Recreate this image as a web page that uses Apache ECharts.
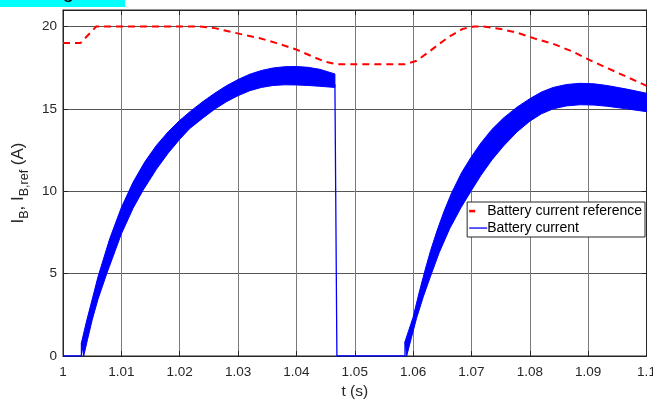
<!DOCTYPE html>
<html>
<head>
<meta charset="utf-8">
<script src="https://cdn.jsdelivr.net/npm/echarts@6/dist/echarts.min.js"></script>
<style>
html,body{margin:0;padding:0;background:#fff;}
#chart{width:653px;height:401px;}
</style>
</head>
<body>
<div id="chart"></div>
<script>
// ---- data ----
const xTicks = [1, 1.01, 1.02, 1.03, 1.04, 1.05, 1.06, 1.07, 1.08, 1.09, 1.1];
const yTicks = [0, 5, 10, 15, 20];

// reference current (red dashed)
const refT = [1.000, 1.003, 1.0057, 1.0234, 1.026, 1.0303, 1.0336, 1.0366, 1.040, 1.0428, 1.045, 1.0469,
              1.0586, 1.0605, 1.0625, 1.0645, 1.0665, 1.0685, 1.0705, 1.072, 1.075, 1.078, 1.081, 1.084,
              1.0875, 1.0902, 1.095, 1.1];
const refI = [19.0, 19.0, 20.0, 20.0, 19.9, 19.55, 19.3, 18.99, 18.6, 18.17, 17.85, 17.71,
              17.71, 17.9, 18.4, 18.95, 19.45, 19.85, 20.0, 20.0, 19.85, 19.6, 19.25, 18.95,
              18.45, 17.97, 17.2, 16.4];

// battery current ripple band, first pulse: upper and lower envelopes
const band1UpperT = [1.00316, 1.004, 1.006, 1.008, 1.010, 1.012, 1.014, 1.016, 1.018, 1.020,
                     1.022, 1.024, 1.026, 1.028, 1.030, 1.032, 1.034, 1.036, 1.038, 1.040,
                     1.042, 1.044, 1.0466];
const band1UpperI = [0.8, 2.06, 4.81, 7.11, 9.01, 10.54, 11.77, 12.78, 13.6, 14.3,
                     14.9, 15.45, 15.95, 16.4, 16.78, 17.1, 17.33, 17.48, 17.56, 17.57,
                     17.52, 17.4, 17.12];
const band1LowerT = [1.00355, 1.0042, 1.005, 1.006, 1.0075, 1.010, 1.012, 1.0137, 1.016, 1.018,
                     1.020, 1.0217, 1.024, 1.026, 1.028, 1.030, 1.032, 1.034, 1.036, 1.038,
                     1.040, 1.042, 1.044, 1.0466];
const band1LowerI = [0.0, 1.0, 2.19, 3.45, 5.0, 7.41, 8.96, 10.05, 11.33, 12.3,
                     13.15, 13.8, 14.45, 14.98, 15.43, 15.8, 16.1, 16.3, 16.42, 16.46,
                     16.45, 16.42, 16.37, 16.3];

// second pulse
const band2UpperT = [1.05861, 1.0600, 1.0610, 1.0620, 1.0630, 1.0641, 1.0653, 1.0666, 1.0683, 1.0700,
                     1.0716, 1.0735, 1.0755, 1.0778, 1.0800, 1.0820, 1.0840, 1.0863, 1.0886, 1.0910,
                     1.0932, 1.0966, 1.1000];
const band2UpperI = [0.87, 2.35, 3.8, 5.15, 6.4, 7.6, 8.78, 9.9, 11.12, 12.1,
                     12.92, 13.75, 14.45, 15.1, 15.62, 16.02, 16.3, 16.48, 16.55, 16.52,
                     16.42, 16.2, 15.95];
const band2LowerT = [1.0589, 1.0597, 1.0606, 1.06175, 1.0630, 1.0645, 1.0663, 1.0682, 1.0700, 1.0716,
                     1.0735, 1.0755, 1.0778, 1.0800, 1.0820, 1.0840, 1.0863, 1.0886, 1.0910, 1.0932,
                     1.0966, 1.1000];
const band2LowerI = [0.0, 1.1, 2.3, 3.6, 4.85, 6.3, 7.75, 9.0, 10.05, 10.95,
                     11.9, 12.75, 13.6, 14.25, 14.7, 15.0, 15.18, 15.25, 15.23, 15.16,
                     15.0, 14.83];

// thin parts of the battery current trace (zero stretches, steps)
const thin1T = [1.0, 1.00316, 1.00316];
const thin1I = [0, 0, 0.8];
const thin2T = [1.0466, 1.04694, 1.05861, 1.05861];
const thin2I = [16.5, 0, 0, 0.87];

const zip = (a, b) => a.map((v, i) => [v, b[i]]);

const FONT = '"Liberation Sans", Arial, Helvetica, sans-serif';
const AX = '#262626';

function band(uT, uI, lT, lI) {
  const upper = zip(uT, uI);
  const lower = zip(lT, lI).reverse();
  const all = upper.concat(lower);
  return {
    type: 'custom',
    coordinateSystem: 'cartesian2d',
    silent: true,
    z: 3,
    data: [all[0]],
    renderItem: function (params, api) {
      const pts = all.map(p => api.coord(p));
      return {
        type: 'polygon',
        shape: { points: pts },
        style: { fill: '#0000ff', stroke: '#0000ff', lineWidth: 1 }
      };
    }
  };
}

const chart = echarts.init(document.getElementById('chart'), null, { renderer: 'canvas' });

const option = {
  animation: false,
  backgroundColor: '#ffffff',
  textStyle: { fontFamily: FONT },
  grid: {
    left: 63, right: 6.5, top: 10, bottom: 45,
    outerBoundsMode: 'none', containLabel: false,
    show: true, borderColor: AX, borderWidth: 1, backgroundColor: '#ffffff'
  },
  graphic: [
    { type: 'rect', left: 0, top: 0, shape: { width: 125, height: 7 }, style: { fill: '#00ffff' }, z: 10 },
    { type: 'text', left: -15, top: -18, style: { text: 'Zoom in g  h', font: '20px ' + FONT, fill: '#000' }, z: 11 }
  ],
  legend: {
    right: 8, top: 202,
    orient: 'vertical',
    backgroundColor: '#ffffff',
    borderColor: AX, borderWidth: 1, borderRadius: 0,
    padding: [2, 3, 2, 2],
    itemGap: 3,
    itemWidth: 18, itemHeight: 10,
    textStyle: { fontFamily: FONT, fontSize: 14, color: '#000', padding: [0, 0, 0, -5] },
    data: [
      { name: 'Battery current reference',
        icon: 'path://M0,0 M18,10 M0,3.8 L6,3.8 L6,6.4 L0,6.4 Z',
        itemStyle: { color: '#ff0000', borderWidth: 0 } },
      { name: 'Battery current',
        icon: 'path://M0,0 M18,10 M0,4.4 L18,4.4 L18,5.7 L0,5.7 Z',
        itemStyle: { color: '#0000ff', borderWidth: 0 } }
    ]
  },
  xAxis: [{
    type: 'value', min: 1, max: 1.1, interval: 0.01,
    name: 't (s)', nameLocation: 'middle', nameGap: 24,
    nameTextStyle: { fontFamily: FONT, fontSize: 15.5, color: AX },
    axisLine: { show: true, onZero: false, lineStyle: { color: AX } },
    axisTick: { show: true, inside: true, length: 5, lineStyle: { color: AX } },
    axisLabel: { fontFamily: FONT, fontSize: 13.5, color: AX, margin: 9,
      formatter: v => xTicks.find(t => Math.abs(t - v) < 1e-9) !== undefined ? String(+v.toFixed(2)) : '' },
    splitLine: { show: true, lineStyle: { color: '#7a7a7a', width: 1 } }
  }, {
    type: 'value', min: 1, max: 1.1, interval: 0.01, position: 'top',
    axisLine: { show: true, onZero: false, lineStyle: { color: AX } },
    axisTick: { show: true, inside: true, length: 5, lineStyle: { color: AX } },
    axisLabel: { show: false }, splitLine: { show: false }
  }],
  yAxis: [{
    type: 'value', min: 0, max: 21, interval: 5,
    name: '{a|I}{s|B}{a|, I}{s|B,ref}{a| (A)}',
    nameLocation: 'middle', nameGap: 27, nameRotate: 90,
    nameTextStyle: {
      fontFamily: FONT, color: AX,
      rich: {
        a: { fontFamily: FONT, fontSize: 17, lineHeight: 21, verticalAlign: 'top', color: AX },
        s: { fontFamily: FONT, fontSize: 12.5, lineHeight: 11, verticalAlign: 'bottom', color: AX }
      }
    },
    axisLine: { show: true, lineStyle: { color: AX } },
    axisTick: { show: true, inside: true, length: 5, lineStyle: { color: AX } },
    axisLabel: { fontFamily: FONT, fontSize: 13.5, color: AX, margin: 6,
      formatter: v => yTicks.indexOf(v) >= 0 ? String(v) : '' },
    splitLine: { show: true, lineStyle: { color: '#555555', width: 1 } }
  }, {
    type: 'value', min: 0, max: 21, interval: 5, position: 'right',
    axisLine: { show: true, lineStyle: { color: AX } },
    axisTick: { show: true, inside: true, length: 5, lineStyle: { color: AX } },
    axisLabel: { show: false }, splitLine: { show: false }
  }],
  series: [
    {
      name: 'Battery current reference', type: 'line', z: 5,
      data: zip(refT, refI), symbol: 'none', smooth: false,
      lineStyle: { color: '#ff0000', width: 2, type: [7, 5] },
      itemStyle: { color: '#ff0000' }
    },
    {
      name: 'Battery current', type: 'line', z: 4,
      data: zip(thin1T, thin1I), symbol: 'none',
      lineStyle: { color: '#0000ff', width: 1.3 }, itemStyle: { color: '#0000ff' }
    },
    {
      name: 'Battery current', type: 'line', z: 4,
      data: zip(thin2T, thin2I), symbol: 'none',
      lineStyle: { color: '#0000ff', width: 1.3 }, itemStyle: { color: '#0000ff' }
    },
    band(band1UpperT, band1UpperI, band1LowerT, band1LowerI),
    band(band2UpperT, band2UpperI, band2LowerT, band2LowerI)
  ]
};
chart.setOption(option);
</script>
</body>
</html>
